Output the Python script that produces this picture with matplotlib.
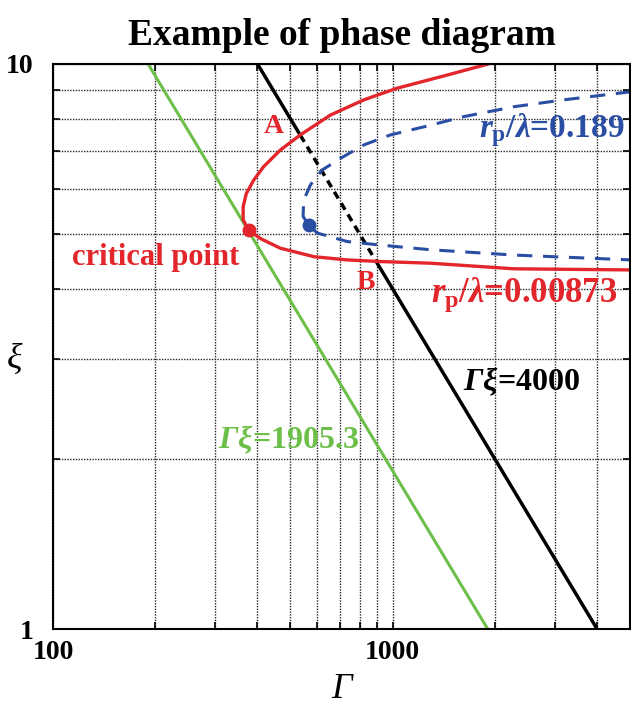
import matplotlib
matplotlib.use('Agg')
import matplotlib.pyplot as plt
from matplotlib.ticker import NullFormatter
import numpy as np

plt.rcParams['font.family'] = ['Liberation Serif', 'DejaVu Serif']
plt.rcParams['font.weight'] = 'bold'
plt.rcParams['mathtext.fontset'] = 'custom'
plt.rcParams['mathtext.rm'] = 'Liberation Serif:bold'
plt.rcParams['mathtext.it'] = 'Liberation Serif:italic:bold'
plt.rcParams['mathtext.bf'] = 'Liberation Serif:bold'
# sf is used for italic capital greek (mathtext forces it upright otherwise)
plt.rcParams['mathtext.sf'] = 'Liberation Serif:italic:bold'

# coexistence curve r_p/lambda = 0.00873 (red)
red_gamma = [1902, 1450, 1032, 823, 656, 535, 467, 417, 390, 371, 363, 363,
             377, 408, 467, 586, 735, 922, 1295, 2275, 5036]
red_xi = [9.99, 9.56, 9.06, 8.64, 8.12, 7.49, 7.04, 6.58, 6.23, 5.90, 5.59,
          5.30, 5.08, 4.91, 4.72, 4.56, 4.50, 4.47, 4.44, 4.34, 4.32]
# coexistence curve r_p/lambda = 0.189 (blue dashed)
blue_gamma = [5036, 3195, 2275, 1623, 1237, 986, 823, 703, 620, 573, 547,
              545, 566, 600, 735, 922, 1295, 2275, 5036]
blue_xi = [8.93, 8.64, 8.40, 8.07, 7.74, 7.49, 7.19, 6.81, 6.49, 6.11, 5.74,
           5.37, 5.19, 5.02, 4.85, 4.78, 4.69, 4.59, 4.50]
# critical points
crit_red = (377, 5.08)
crit_blue = (566, 5.19)
# lines Gamma*xi = const
c_black = 4000
c_green = 1905.3
gamma_A = 535   # intersection with red, upper
gamma_B = 895   # intersection with red, lower

red = '#e3262b'
blue = '#2b4ea5'
green = '#6cbf48'

fig = plt.figure(figsize=(6.31, 7.09), dpi=100)
ax = fig.add_axes([0.084, 0.1128, 0.9144, 0.797])
ax.set_xscale('log')
ax.set_yscale('log')
ax.set_xlim(100, 5000)
ax.set_ylim(1, 10)

ax.grid(True, which='both', color='0.15', linestyle=(0, (1, 1)), linewidth=1.0)
ax.set_axisbelow(True)

# green line
g = np.array([c_green / 10, c_green])
ax.plot(g, c_green / g, color=green, lw=2.2, solid_capstyle='butt')

# black line: solid - dashed - solid
g1 = np.array([c_black / 10, gamma_A])
g2 = np.array([gamma_A, gamma_B])
g3 = np.array([gamma_B, c_black])
ax.plot(g1, c_black / g1, color='black', lw=2.5, solid_capstyle='butt')
ax.plot(g2, c_black / g2, color='black', lw=2.5, linestyle=(0, (2.2, 1.6)))
ax.plot(g3, c_black / g3, color='black', lw=2.5, solid_capstyle='butt')

ax.plot(blue_gamma, blue_xi, color=blue, lw=2.2, linestyle=(0, (5, 3.5)))
ax.plot(red_gamma, red_xi, color=red, lw=2.4)

ax.plot(*crit_red, 'o', color=red, ms=9, zorder=5)
ax.plot(*crit_blue, 'o', color=blue, ms=9, zorder=5)

ax.text(446, 7.74, 'A', color=red, fontsize=20, ha='center', va='center')
ax.text(832, 4.11, 'B', color=red, fontsize=20, ha='center', va='center')
ax.text(114, 4.54, 'critical point', color=red, fontsize=22, ha='left', va='center')
ax.text(1795, 7.64, r'$r_{\mathrm{p}}/\lambda$=0.189', color=blue, fontsize=24,
        ha='left', va='center')
ax.text(1294, 3.90, r'$r_{\mathrm{p}}/\lambda$=0.00873', color=red, fontsize=25,
        ha='left', va='center')
ax.text(1610, 2.74, r'$\mathsf{\Gamma}\xi$=4000', color='black', fontsize=23,
        ha='left', va='center')
ax.text(307, 2.16, r'$\mathsf{\Gamma}\xi$=1905.3', color=green, fontsize=23,
        ha='left', va='center')

ax.set_xticks([100, 1000])
ax.set_xticklabels(['100', '1000'])
ax.set_yticks([1, 10])
ax.set_yticklabels(['1', '10'])
ax.xaxis.set_minor_formatter(NullFormatter())
ax.yaxis.set_minor_formatter(NullFormatter())
ax.tick_params(which='both', direction='in', top=True, right=True,
               length=5, width=1.2, labelsize=20)
ax.tick_params(axis='x', pad=8)
ax.tick_params(axis='y', pad=14)
for s in ax.spines.values():
    s.set_linewidth(1.5)

ax.set_xlabel('Γ', fontsize=26, fontstyle='italic', fontweight='normal',
              va='center')
ax.set_ylabel('ξ', fontsize=26, fontstyle='italic', fontweight='normal',
              rotation=0, va='center', ha='center')
ax.xaxis.set_label_coords(0.5, -0.107)
ax.yaxis.set_label_coords(-0.066, 0.478)
ax.set_title('Example of phase diagram', fontsize=27, fontweight='bold', pad=14)

fig.savefig('out.png', dpi=100)
